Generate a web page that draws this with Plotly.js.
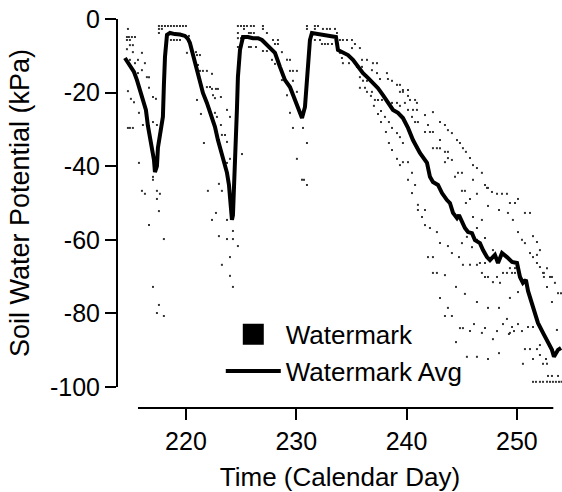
<!DOCTYPE html>
<html>
<head>
<meta charset="utf-8">
<script src="https://cdn.plot.ly/plotly-3.0.1.min.js"></script>
<style>
  html, body { margin: 0; padding: 0; background: #ffffff; }
  #chart { width: 562px; height: 492px; }
</style>
</head>
<body>
<div id="chart"></div>
<script>
// ---- Data: Watermark average (calendar day, kPa) ----
const avgDay = [214.47,214.74,215.01,215.29,215.56,215.83,216.10,216.37,216.55,216.75,
  216.92,217.10,217.19,217.37,217.46,217.64,217.91,218.00,218.10,218.28,
  218.55,219.00,219.46,219.91,220.18,220.36,220.63,221.00,221.27,221.54,
  221.90,222.18,222.63,222.90,223.26,223.54,223.72,223.90,223.99,224.08,
  224.17,224.26,224.35,224.44,224.62,224.71,224.90,225.17,225.62,226.07,
  226.53,226.89,227.25,227.62,228.07,228.52,228.98,229.43,229.88,230.34,
  230.52,230.79,230.97,231.06,231.24,231.42,231.97,232.51,233.06,233.60,
  233.78,234.23,234.69,235.14,235.59,236.05,236.50,236.95,237.41,237.86,
  238.31,238.77,239.22,239.67,240.13,240.58,241.21,241.85,242.12,242.39,
  242.85,243.21,243.66,243.93,244.21,244.57,244.75,245.02,245.29,245.57,
  245.93,246.20,246.65,246.93,247.29,247.56,248.01,248.29,248.65,249.10,
  249.56,250.01,250.28,250.55,250.82,251.01,251.37,251.64,251.91,252.37,
  252.73,253.18,253.36,253.73,254.00];
const avgVal = [-10.6,-12.0,-13.0,-14.4,-16.6,-19.5,-22.0,-24.7,-29.0,-32.5,
  -35.0,-38.3,-41.6,-40.0,-35.0,-31.0,-26.6,-18.0,-10.3,-4.3,
  -3.8,-4.1,-4.2,-4.6,-5.4,-6.5,-9.8,-13.9,-16.6,-20.1,
  -22.8,-25.5,-29.3,-32.9,-37.0,-39.7,-41.8,-45.1,-49.2,-52.4,
  -54.6,-53.3,-43.8,-35.6,-24.7,-15.8,-8.4,-4.9,-4.9,-5.2,
  -5.2,-5.7,-6.8,-7.6,-9.2,-13.0,-16.6,-18.5,-22.0,-25.5,
  -26.9,-23.9,-17.4,-11.1,-5.7,-3.8,-4.1,-4.3,-4.6,-4.9,
  -8.4,-9.2,-9.8,-11.1,-13.0,-14.7,-16.0,-17.4,-18.8,-20.7,
  -22.8,-24.7,-25.5,-26.9,-29.6,-32.9,-36.4,-39.1,-42.9,-44.3,
  -45.1,-47.3,-49.2,-50.0,-52.7,-54.1,-53.3,-55.4,-56.8,-57.9,
  -58.2,-60.1,-60.9,-62.8,-64.7,-65.5,-64.1,-66.3,-63.6,-64.7,
  -66.0,-66.3,-70.1,-71.7,-70.9,-73.9,-77.7,-79.9,-82.6,-85.3,
  -87.2,-89.9,-91.8,-89.9,-89.4];

// ---- Data: individual Watermark sensor readings (calendar day, kPa) ----
const wmDay = [
  214.74,214.65,214.83,215.10,215.38,214.65,214.92,214.92,215.19,214.65,215.19,216.01,
  214.92,215.65,215.38,216.28,216.01,215.65,216.46,216.65,214.74,215.01,215.29,216.65,
  217.01,217.28,215.74,216.10,214.74,214.92,215.19,217.01,217.37,
  217.55,217.82,218.10,218.37,218.64,218.91,219.18,219.46,219.73,220.00,217.55,217.82,
  217.55,218.64,218.91,219.18,219.46,220.27,220.09,220.91,221.00,221.27,220.73,221.09,
  221.27,221.54,221.90,222.36,221.90,222.18,222.36,222.72,222.90,221.00,222.45,222.63,
  223.17,223.72,222.63,222.81,221.36,223.17,223.26,223.54,223.72,221.63,225.08,223.99,
  224.71,224.99,225.26,225.53,225.89,226.16,225.26,224.71,225.71,225.89,226.16,224.71,
  224.99,225.26,225.71,225.89,226.35,224.71,
  215.74,217.01,217.01,216.01,216.28,217.37,217.64,217.37,217.55,216.65,218.00,217.01,
  217.55,217.37,218.00,223.99,223.72,222.99,223.26,221.99,222.72,222.36,223.72,224.26,
  222.99,223.72,224.26,224.71,223.99,223.26,223.99,224.26,
  226.98,226.98,227.34,227.89,228.34,226.98,227.34,228.07,228.34,228.70,227.80,228.07,
  229.16,229.43,229.43,229.70,230.06,228.70,229.70,229.16,230.06,229.43,229.70,230.61,
  230.97,230.06,230.52,230.70,230.97,
  230.97,231.69,231.97,230.97,231.69,232.42,232.78,233.06,233.51,231.24,231.69,232.15,
  232.33,232.60,232.87,233.24,233.69,233.96,234.23,234.60,235.05,235.32,235.05,235.77,
  233.96,234.14,234.23,234.78,235.50,235.96,235.96,236.41,236.95,237.32,236.86,237.32,
  238.22,235.77,236.05,236.41,235.77,236.23,237.59,238.31,238.68,239.13,239.40,239.67,
  240.13,240.31,240.77,240.94,240.49,238.04,238.68,239.13,239.67,238.68,239.13,
  236.41,236.86,236.77,237.13,237.41,237.77,237.04,237.68,237.41,238.68,239.13,239.40,
  237.68,238.40,238.13,239.40,238.40,239.40,239.67,240.13,240.13,239.40,239.67,240.13,
  240.13,239.85,
  241.03,240.77,240.58,240.94,241.67,241.94,241.67,242.12,242.39,242.39,243.03,243.48,
  243.75,244.11,243.03,242.39,242.75,243.03,243.48,243.75,243.75,244.11,243.48,240.49,
  240.77,240.49,244.57,244.84,245.11,245.38,245.75,246.02,246.38,246.83,244.66,245.02,
  244.39,246.02,245.02,245.29,245.75,245.38,246.38,247.11,247.29,247.38,247.74,248.20,
  248.65,249.10,247.38,248.38,249.37,249.83,250.10,249.19,250.73,251.19,249.64,250.10,
  246.83,246.02,246.38,245.47,245.02,245.93,246.38,247.11,247.83,246.65,247.11,245.11,
  245.75,246.38,246.83,247.11,247.38,248.20,247.83,248.47,248.74,249.10,249.56,249.83,
  249.37,249.83,251.46,251.82,250.46,250.73,251.19,251.46,251.82,252.09,252.37,253.00,
  252.73,253.45,254.00,241.03,241.03,241.67,241.40,241.67,242.12,242.75,243.03,243.75,
  244.11,244.75,241.94,242.39,242.39,242.75,243.48,244.48,243.03,245.29,249.37,250.10,
  243.75,243.48,244.11,246.38,247.38,248.38,249.10,248.74,244.84,245.11,245.75,246.11,
  247.11,246.83,248.20,247.83,244.48,245.47,246.38,247.38,248.38,249.56,250.10,249.74,
  250.46,249.37,251.01,251.46,251.82,252.09,252.73,252.45,252.45,253.18,253.73,253.18,
  253.63,250.73,251.19,251.82,251.46,250.55,252.09,252.64,252.37,252.73,
  251.46,251.73,252.09,252.37,252.73,253.00,253.27,253.54,253.82,254.05,
  252.82,253.18,253.73,249.28,252.09];
const wmVal = [
  -2.7,-4.9,-4.9,-4.9,-4.9,-5.7,-5.7,-7.1,-7.1,-8.2,-9.0,-9.2,
  -11.1,-11.1,-12.0,-12.0,-13.9,-14.7,-15.8,-15.8,-19.6,-21.7,-22.6,-18.7,
  -21.2,-21.7,-25.5,-28.8,-29.6,-29.6,-29.6,-28.0,-28.8,
  -1.9,-1.9,-1.9,-1.9,-1.9,-1.9,-1.9,-1.9,-1.9,-1.9,-2.7,-2.7,
  -3.8,-5.7,-5.7,-5.7,-5.7,-4.6,-9.2,-9.0,-9.8,-9.8,-11.1,-12.5,
  -14.1,-14.1,-14.1,-14.9,-18.5,-18.5,-19.0,-19.0,-19.0,-22.0,-20.7,-21.5,
  -21.2,-24.7,-25.5,-26.6,-25.8,-28.8,-31.5,-31.5,-33.4,-33.7,-36.7,-26.6,
  -1.9,-1.9,-1.9,-1.9,-1.9,-1.9,-2.7,-3.8,-3.8,-3.8,-3.8,-5.2,
  -5.2,-5.2,-7.6,-7.6,-7.6,-7.6,
  -39.1,-42.9,-43.7,-46.7,-47.5,-46.7,-47.5,-48.9,-52.2,-56.0,-59.8,-72.8,
  -77.7,-79.9,-80.7,-38.0,-39.1,-44.8,-46.7,-46.7,-52.7,-54.6,-54.6,-57.6,
  -59.0,-59.8,-59.8,-61.7,-64.7,-66.8,-69.8,-72.8,
  -1.9,-2.7,-3.8,-5.7,-5.7,-8.7,-8.7,-6.8,-6.8,-9.0,-11.1,-12.2,
  -11.1,-11.1,-14.1,-14.1,-14.1,-16.6,-16.8,-20.7,-19.8,-25.5,-29.6,-29.6,
  -33.7,-38.0,-43.7,-43.7,-45.1,
  -1.9,-1.9,-1.9,-2.7,-2.7,-2.7,-2.7,-2.7,-2.7,-5.7,-5.7,-5.7,
  -6.8,-6.8,-6.8,-6.8,-3.8,-5.7,-5.7,-5.7,-5.7,-6.8,-7.9,-7.9,
  -9.2,-10.6,-12.0,-12.0,-13.0,-13.0,-11.1,-11.1,-12.0,-12.0,-13.9,-14.7,
  -14.7,-15.8,-16.8,-16.8,-18.7,-18.7,-16.3,-16.3,-16.8,-17.9,-17.9,-19.3,
  -19.3,-22.0,-22.0,-22.8,-26.6,-26.6,-29.6,-31.0,-33.7,-35.6,-38.0,
  -19.8,-19.8,-20.9,-22.0,-22.0,-22.0,-23.6,-25.0,-25.8,-22.8,-22.8,-23.6,
  -28.0,-28.0,-30.7,-32.1,-33.7,-39.7,-38.9,-38.9,-43.7,-19.8,-19.8,-20.9,
  -24.7,-22.8,
  -28.0,-28.0,-24.7,-24.7,-26.1,-28.8,-30.7,-30.7,-30.7,-25.3,-28.0,-28.8,
  -30.2,-31.0,-32.9,-35.1,-35.1,-35.1,-36.1,-36.1,-37.8,-38.3,-38.9,-41.8,
  -45.1,-47.3,-32.9,-33.7,-35.1,-36.1,-37.8,-39.7,-40.5,-41.8,-41.8,-41.8,
  -42.9,-43.7,-46.7,-46.7,-48.9,-50.0,-47.5,-45.1,-45.9,-45.9,-47.0,-47.5,
  -47.5,-47.5,-50.8,-51.9,-50.0,-50.0,-48.9,-52.7,-52.7,-52.7,-54.6,-57.9,
  -54.6,-53.8,-56.8,-59.2,-60.9,-62.0,-60.0,-59.5,-62.8,-66.3,-66.3,-66.8,
  -66.8,-66.8,-69.0,-70.1,-70.1,-70.1,-71.5,-71.7,-69.0,-69.0,-69.0,-69.0,
  -67.7,-67.7,-59.0,-60.6,-60.0,-60.9,-63.6,-64.7,-66.3,-62.8,-69.0,-70.1,
  -72.8,-71.7,-74.5,-50.5,-51.9,-51.9,-53.8,-56.0,-56.8,-57.9,-60.9,-61.7,
  -63.6,-64.7,-64.7,-64.7,-69.0,-69.0,-69.6,-72.8,-75.8,-74.7,-75.8,-74.2,
  -78.5,-80.7,-80.7,-76.9,-78.5,-78.5,-81.5,-82.9,-84.0,-84.0,-84.8,-82.9,
  -84.0,-85.3,-84.8,-87.0,-87.8,-91.8,-91.8,-92.4,-90.8,-83.7,-82.9,-84.8,
  -84.8,-85.3,-83.7,-83.7,-64.1,-67.4,-67.7,-69.0,-70.1,-70.1,-74.5,-76.9,
  -84.5,-89.7,-89.7,-89.7,-92.4,-93.7,-91.3,-92.4,-93.7,-93.7,
  -98.6,-98.6,-98.6,-98.6,-98.6,-98.6,-98.6,-98.6,-98.6,-98.6,
  -97.0,-97.0,-97.0,-85.6,-88.6];

const xTicks = [220, 230, 240, 250];
const yTicks = [0, -20, -40, -60, -80, -100];
const seriesNames = ['Watermark', 'Watermark Avg'];
const xTitle = 'Time (Calendar Day)';
const yTitle = 'Soil Water Potential (kPa)';

const FONT = 'Liberation Sans, Arial, Helvetica, sans-serif';

const traces = [
  { // individual readings (dots)
    x: wmDay, y: wmVal, type: 'scatter', mode: 'markers',
    name: seriesNames[0], legendgroup: 'wm', showlegend: false,
    marker: { symbol: 'square', size: 2, color: '#333333', line: { width: 0 } },
    hoverinfo: 'x+y'
  },
  { // legend entry for readings
    x: [null], y: [null], type: 'scatter', mode: 'markers',
    name: seriesNames[0], legendgroup: 'wm',
    marker: { symbol: 'square', size: 16, color: '#000000', line: { width: 5, color: '#000000' } }
  },
  {
    x: avgDay, y: avgVal, type: 'scatter', mode: 'lines',
    name: seriesNames[1],
    line: { color: '#000000', width: 4 }
  }
];

const layout = {
  width: 562, height: 492,
  margin: { l: 118, r: 0, t: 19, b: 84, pad: 0 },
  paper_bgcolor: '#ffffff', plot_bgcolor: '#ffffff',
  font: { family: FONT, color: '#000000', size: 25 },
  showlegend: true,
  legend: {
    x: 0.2315, y: 0.25, xanchor: 'left', yanchor: 'top',
    bgcolor: 'rgba(0,0,0,0)', borderwidth: 0,
    font: { family: FONT, size: 26, color: '#000000' },
    itemwidth: 55, tracegroupgap: 0
  },
  xaxis: {
    range: [213.84, 254.09], anchor: 'free', position: 0,
    showline: false, showgrid: false, zeroline: false,
    ticks: 'outside', ticklen: 11, tickwidth: 2, tickcolor: '#000000',
    tickvals: xTicks, ticktext: xTicks.map(String),
    tickfont: { family: FONT, size: 25, color: '#000000' },
    title: { text: xTitle, font: { family: FONT, size: 26, color: '#000000' }, standoff: 16 }
  },
  yaxis: {
    range: [-100, 0], domain: [0.054, 1],
    showline: true, linewidth: 2, linecolor: '#000000',
    showgrid: false, zeroline: false,
    ticks: 'outside', ticklen: 11, tickwidth: 2, tickcolor: '#000000',
    tickvals: yTicks, ticktext: yTicks.map(String),
    tickfont: { family: FONT, size: 25, color: '#000000' },
    title: { text: yTitle, font: { family: FONT, size: 27, color: '#000000' }, standoff: 12 }
  },
  shapes: [
    { type: 'line', xref: 'x', yref: 'paper', x0: 215.65, x1: 253.3, y0: 0, y1: 0,
      line: { color: '#000000', width: 2 } }
  ]
};

Plotly.newPlot('chart', traces, layout, { displayModeBar: false, staticPlot: true });
</script>
</body>
</html>
